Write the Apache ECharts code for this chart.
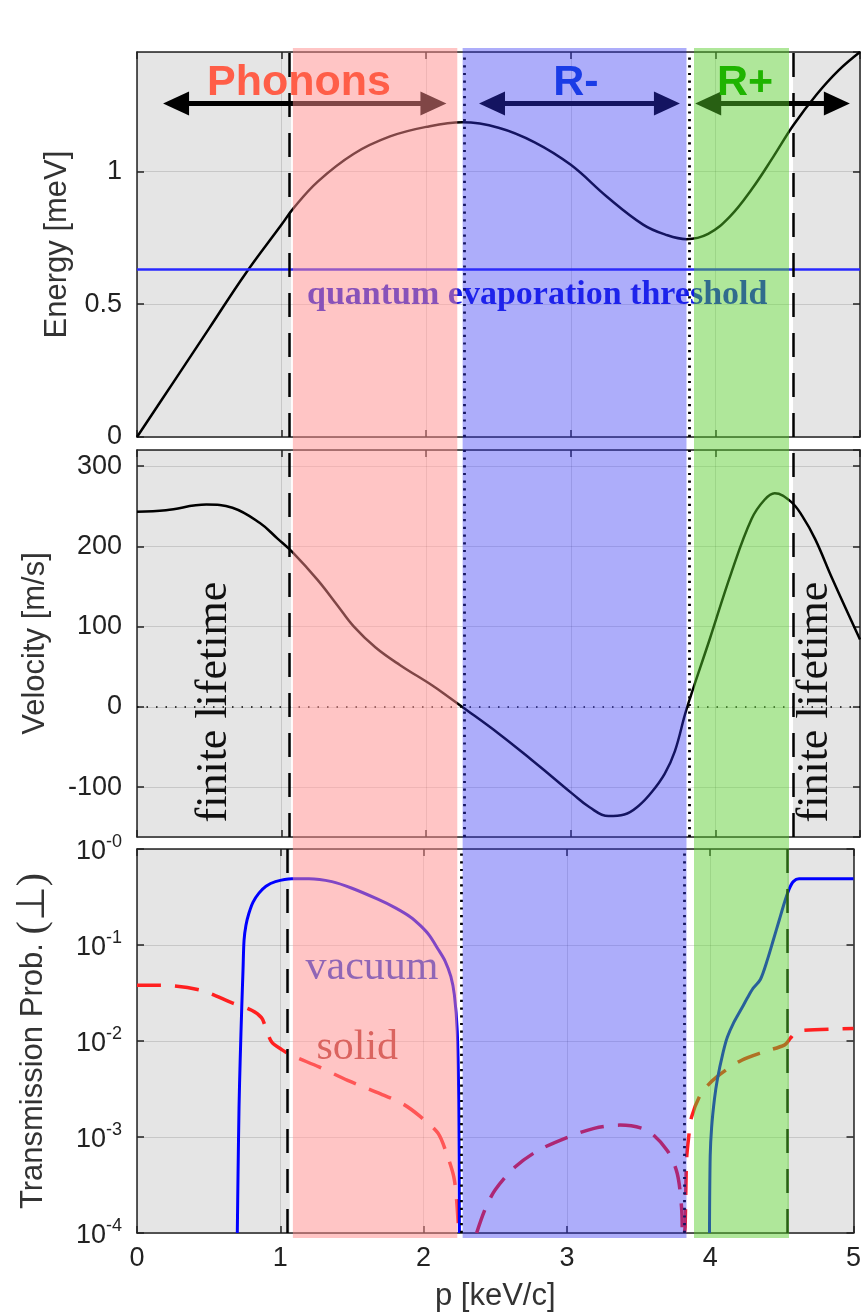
<!DOCTYPE html>
<html><head><meta charset="utf-8">
<script src="https://cdn.jsdelivr.net/npm/echarts@6/dist/echarts.min.js"></script>
<style>html,body{margin:0;padding:0;background:#fff}#c{width:864px;height:1315px}</style>
</head><body><div id="c"></div>
<script>
// ---------------- data ----------------
const xTicks = [0, 1, 2, 3, 4, 5];
const pUnit = 'p [keV/c]';

// dispersion E(p) [meV]
const energyP = [0, 0.25, 0.5, 0.75, 1.0, 1.08, 1.25, 1.5, 1.75, 2.0, 2.25, 2.5, 2.75, 3.0, 3.25, 3.5, 3.65, 3.8, 3.95, 4.1, 4.25, 4.4, 4.54, 4.7, 4.85, 5.0];
const energyE = [0, 0.205, 0.41, 0.615, 0.80, 0.86, 0.962, 1.067, 1.132, 1.168, 1.185, 1.165, 1.11, 1.025, 0.905, 0.80, 0.763, 0.745, 0.765, 0.83, 0.932, 1.055, 1.175, 1.29, 1.38, 1.45];
const thresholdE = 0.628;

// group velocity v(p) [m/s]
const velP = [0, 0.2, 0.48, 0.66, 0.85, 0.97, 1.08, 1.25, 1.38, 1.5, 1.65, 1.82, 2.04, 2.15, 2.25, 2.5, 2.73, 2.87, 3.01, 3.13, 3.26, 3.37, 3.47, 3.56, 3.65, 3.72, 3.8, 3.96, 4.11, 4.25, 4.34, 4.41, 4.52, 4.6, 4.69, 4.81, 5.0];
const velV = [243, 245, 252, 248, 229, 210, 192, 158, 128, 100, 74, 52, 27, 13, 0, -33, -66, -87, -108, -125, -136, -134, -123, -106, -83, -55, -3, 84, 167, 234, 258, 266, 256, 238, 209, 159, 84];

// transmission probability, vacuum (solid blue)
const vacLeftP = [0.700, 0.705, 0.712, 0.72, 0.731, 0.74, 0.747, 0.76, 0.781, 0.81, 0.851, 0.9, 0.966, 1.08, 1.2, 1.36, 1.5, 1.68, 1.8, 1.91, 1.98, 2.04, 2.1, 2.15, 2.19, 2.215, 2.235, 2.245, 2.25];
const vacLeftT = [1e-4, 4.0e-4, 2.04e-3, 6.3e-3, 0.0224, 0.056, 0.112, 0.16, 0.214, 0.28, 0.347, 0.41, 0.457, 0.49, 0.49, 0.457, 0.39, 0.30, 0.245, 0.195, 0.158, 0.126, 0.091, 0.068, 0.047, 0.03, 0.0126, 2.5e-3, 1e-4];
const vacRightP = [3.995, 4.0, 4.01, 4.03, 4.05, 4.09, 4.12, 4.16, 4.22, 4.26, 4.30, 4.35, 4.40, 4.44, 4.48, 4.52, 4.55, 4.58, 4.62, 5.0];
const vacRightT = [1e-4, 6.3e-4, 1.26e-3, 2.5e-3, 3.98e-3, 7.6e-3, 0.011, 0.0151, 0.0219, 0.0282, 0.0355, 0.0437, 0.0708, 0.112, 0.178, 0.282, 0.38, 0.457, 0.49, 0.49];

// transmission probability, solid (red dashed), three branches
const solidP1 = [0, 0.16, 0.44, 0.66, 0.80, 0.87, 0.90, 0.94, 1.01, 1.08, 1.27, 1.47, 1.70, 1.86, 1.98, 2.10, 2.16, 2.21, 2.23, 2.245];
const solidT1 = [0.038, 0.038, 0.0339, 0.0251, 0.0209, 0.0174, 0.0135, 0.00977, 0.00813, 0.00708, 0.00537, 0.00389, 0.00282, 0.00219, 0.00162, 0.0011, 0.000676, 0.000389, 0.000224, 0.0001];
const solidP2 = [2.37, 2.43, 2.50, 2.64, 2.80, 3.01, 3.19, 3.37, 3.56, 3.70, 3.77, 3.80, 3.805];
const solidT2 = [1e-4, 1.78e-4, 2.82e-4, 4.9e-4, 7.24e-4, 1.0e-3, 1.23e-3, 1.33e-3, 1.17e-3, 7.24e-4, 4.17e-4, 1.86e-4, 1e-4];
const solidP3 = [3.82, 3.825, 3.835, 3.85, 3.87, 3.94, 4.05, 4.22, 4.38, 4.52, 4.56, 4.59, 4.65, 5.0];
const solidT3 = [1e-4, 1.15e-4, 5.75e-4, 1e-3, 1.62e-3, 2.88e-3, 4.27e-3, 6.31e-3, 7.76e-3, 9.12e-3, 0.0107, 0.012, 0.0129, 0.0135];

// regions (p ranges)
const regionNames = ['Phonons', 'R-', 'R+'];
const bandStart = [1.078, 2.252, 3.852];
const bandEnd = [2.215, 3.800, 4.509];
const grayStart = [0, 4.537];
const grayEnd = [1.066, 5];
const dashedP = [1.053, 4.537];
const dottedP = [2.26, 3.818];

// ---------------- styles ----------------
const bandColors = ['rgba(255,139,139,0.5)', 'rgba(50,50,242,0.4)', 'rgba(85,205,40,0.47)'];
const SANS = '"Liberation Sans", Arial, Helvetica, sans-serif';
const SERIF = '"Liberation Serif", "Times New Roman", serif';
const AX = '#222';
const gridSplit = {show: true, lineStyle: {color: 'rgba(0,0,0,0.13)', width: 1}};

const zip = (a, b) => a.map((v, i) => [v, b[i]]);

// annotations (data coordinates)
const arrowE = 1.256;
const arrows = [[0.27, 2.05], [2.455, 3.665], [3.95, 4.84]];
const topTexts = [
  {text: regionNames[0], p: 1.12, v: 1.331, color: '#ff5e48'},
  {text: regionNames[1], p: 3.036, v: 1.331, color: '#1a3ce6'},
  {text: regionNames[2], p: 4.205, v: 1.331, color: '#1fb400'}
];
const energyTexts = [{text: 'quantum evaporation threshold', p: 1.176, v: 0.534, color: '#1018e6', font: 'bold 34px ' + SERIF, align: 'left'}];
const velTexts = [
  {text: 'finite lifetime', p: 0.533, v: 6, color: '#111', font: '44px ' + SERIF, rot: Math.PI / 2},
  {text: 'finite lifetime', p: 4.692, v: 6, color: '#111', font: '44px ' + SERIF, rot: Math.PI / 2}
];
const transTexts = [
  {text: 'vacuum', p: 1.176, v: 0.0575, color: '#2040e0', font: '42px ' + SERIF, align: 'left'},
  {text: 'solid', p: 1.252, v: 0.0085, color: '#b43c32', font: '42px ' + SERIF, align: 'left'}
];

// ---------------- axes ----------------
function xAx(grid, pos, showLabels, split) {
  return {
    type: 'value', gridIndex: grid, position: pos, min: xTicks[0], max: xTicks[xTicks.length - 1], interval: 1, z: 1,
    axisLine: {show: true, onZero: false, lineStyle: {color: AX, width: 1.5}},
    axisTick: {show: true, inside: true, length: 7, lineStyle: {color: AX, width: 1.5}},
    axisLabel: {show: showLabels, fontSize: 27, fontFamily: SANS, color: AX, margin: 12},
    splitLine: split ? gridSplit : {show: false}
  };
}
function yAx(grid, pos, base, showLabels) {
  return Object.assign({
    gridIndex: grid, position: pos, z: 1,
    axisLine: {show: true, onZero: false, lineStyle: {color: AX, width: 1.5}},
    axisTick: {show: true, inside: true, length: 7, lineStyle: {color: AX, width: 1.5}},
    splitLine: showLabels ? gridSplit : {show: false}
  }, base, showLabels ? {} : {axisLabel: {show: false}, name: ''});
}
const nameStyle = {fontSize: 31, fontFamily: SANS, color: '#333'};
const labelStyle = {fontSize: 27, fontFamily: SANS, color: AX, margin: 15};

const energyBase = {type: 'value', min: 0, max: 1.45, interval: 0.5,
  axisLabel: Object.assign({showMaxLabel: false}, labelStyle),
  name: 'Energy [meV]', nameLocation: 'middle', nameGap: 64, nameTextStyle: nameStyle};
const velBase = {type: 'value', min: -162, max: 320, splitNumber: 5,
  axisLabel: Object.assign({showMinLabel: false, showMaxLabel: false,
    formatter: v => (Math.abs(v % 100) < 1e-6 ? String(v) : '')}, labelStyle),
  name: 'Velocity [m/s]', nameLocation: 'middle', nameGap: 86, nameTextStyle: nameStyle};
const logBase = {type: 'log', logBase: 10, min: 1e-4, max: 1,
  axisLabel: Object.assign({
    formatter: v => '{a|10}{b|-' + Math.abs(Math.round(Math.log10(v))) + '}',
    rich: {a: {fontSize: 27, fontFamily: SANS, color: AX, lineHeight: 32, verticalAlign: 'bottom'},
           b: {fontSize: 18, fontFamily: SANS, color: AX, lineHeight: 18, verticalAlign: 'top'}}
  }, labelStyle),
  name: '{t|Transmission Prob. }{s|(\u22A5)}', nameLocation: 'middle', nameGap: 84,
  nameTextStyle: {fontSize: 31, fontFamily: SANS, color: '#333',
    rich: {t: {fontSize: 31, fontFamily: SANS, color: '#333'}, s: {fontSize: 40, fontFamily: SERIF, color: '#333'}}}};

// ---------------- render helpers ----------------
function rectRender(colors) {
  return function (params, api) {
    const cs = params.coordSys;
    const x0 = api.coord([api.value(0), 1])[0];
    const x1 = api.coord([api.value(1), 1])[0];
    return {type: 'rect', shape: {x: x0, y: cs.y, width: x1 - x0, height: cs.height},
      style: {fill: colors[params.dataIndex % colors.length]}};
  };
}
function textSeries(list, xi, yi, z, defFont) {
  return {
    type: 'custom', xAxisIndex: xi, yAxisIndex: yi, z: z, silent: true,
    data: list.map(t => [t.p, t.v]),
    encode: {x: 0, y: 1},
    renderItem: function (params, api) {
      const t = list[params.dataIndex];
      const pt = api.coord([api.value(0), api.value(1)]);
      return {type: 'text', x: pt[0], y: pt[1], rotation: t.rot || 0,
        style: {text: t.text, fill: t.color, font: t.font || defFont, align: t.align || 'center', verticalAlign: 'middle'}};
    }
  };
}
function refLines(xi, yi) {
  const d = [];
  dashedP.forEach(p => d.push({xAxis: p, lineStyle: {type: [24, 16], width: 2.5, color: '#000'}}));
  dottedP.forEach(p => d.push({xAxis: p, lineStyle: {type: [2.2, 5.5], width: 2.8, color: '#000'}}));
  return {type: 'line', xAxisIndex: xi, yAxisIndex: yi, data: [], z: 20,
    markLine: {silent: true, symbol: 'none', label: {show: false}, animation: false, data: d}};
}
function curve(xi, yi, xs, ys, color, width, dash, sm) {
  return {type: 'line', xAxisIndex: xi, yAxisIndex: yi, data: zip(xs, ys), z: 2,
    symbol: 'none', smooth: sm, silent: true,
    lineStyle: {color: color, width: width, type: dash || 'solid', cap: 'butt', join: 'round'}};
}

const grayData = grayStart.map((s, i) => [s, grayEnd[i]]);
const bandData = bandStart.map((s, i) => [s, bandEnd[i]]);

const series = [];
[[0, 0], [2, 2], [4, 4]].forEach(([xi, yi]) => {
  series.push({type: 'custom', xAxisIndex: xi, yAxisIndex: yi, z: 0, silent: true,
    data: grayData, encode: {x: [0, 1]}, renderItem: rectRender(['#e5e5e5'])});
});
series.push({type: 'custom', xAxisIndex: 6, yAxisIndex: 6, z: 10, silent: true,
  data: bandData, encode: {x: [0, 1]}, renderItem: rectRender(bandColors)});

// energy panel
series.push(curve(0, 0, energyP, energyE, '#000', 2.5, null, 0.4));
series.push({type: 'line', xAxisIndex: 0, yAxisIndex: 0, data: [], z: 2,
  markLine: {silent: true, symbol: 'none', label: {show: false}, animation: false,
    data: [{yAxis: thresholdE, lineStyle: {color: '#2828ff', width: 2.5, type: 'solid'}}]}});
series.push({type: 'line', xAxisIndex: 0, yAxisIndex: 0, data: [], z: 2,
  markLine: {silent: true, symbol: ['triangle', 'triangle'], symbolSize: [24, 26], label: {show: false}, animation: false,
    lineStyle: {color: '#000', width: 5, type: 'solid'}, itemStyle: {color: '#000'},
    data: arrows.map(a => [{coord: [a[0], arrowE]}, {coord: [a[1], arrowE]}])}});
series.push(textSeries(energyTexts, 0, 0, 3));

// velocity panel
series.push(curve(2, 2, velP, velV, '#000', 2.5, null, 0.4));
series.push({type: 'line', xAxisIndex: 2, yAxisIndex: 2, data: [], z: 2,
  markLine: {silent: true, symbol: 'none', label: {show: false}, animation: false,
    data: [{yAxis: 0, lineStyle: {color: '#000', width: 1.5, type: [1.5, 8]}}]}});
series.push(textSeries(velTexts, 2, 2, 3));

// transmission panel
series.push(curve(4, 4, solidP1, solidT1, '#ff2020', 3.5, [24, 14], 0.3));
series.push(curve(4, 4, solidP2, solidT2, '#ff2020', 3.5, [24, 14], 0.3));
series.push(curve(4, 4, solidP3, solidT3, '#ff2020', 3.5, [24, 14], 0.3));
series.push(curve(4, 4, vacLeftP, vacLeftT, '#0000ff', 3, null, 0.3));
series.push(curve(4, 4, vacRightP, vacRightT, '#0000ff', 3, null, 0.3));
series.push(textSeries(transTexts, 4, 4, 3));

// reference verticals (on top)
series.push(refLines(0, 0));
series.push(refLines(2, 2));
series.push(refLines(4, 4));

// region names on top of everything
series.push(textSeries(topTexts, 0, 0, 30, 'bold 43px ' + SANS));

const bottomX = xAx(2, 'bottom', true, true);
bottomX.name = pUnit; bottomX.nameLocation = 'middle'; bottomX.nameGap = 48; bottomX.nameTextStyle = nameStyle;

const option = {
  animation: false,
  backgroundColor: '#fff',
  grid: [
    {left: 137, width: 723, top: 52, height: 385},
    {left: 137, width: 723, top: 450, height: 387},
    {left: 137, width: 723, top: 849, height: 384},
    {left: 137, width: 723, top: 48, height: 1190}
  ],
  xAxis: [
    xAx(0, 'bottom', false, true), xAx(0, 'top', false, false),
    xAx(1, 'bottom', false, true), xAx(1, 'top', false, false),
    bottomX, xAx(2, 'top', false, false),
    {type: 'value', gridIndex: 3, min: 0, max: 5, show: false}
  ],
  yAxis: [
    yAx(0, 'left', energyBase, true), yAx(0, 'right', energyBase, false),
    yAx(1, 'left', velBase, true), yAx(1, 'right', velBase, false),
    yAx(2, 'left', logBase, true), yAx(2, 'right', logBase, false),
    {type: 'value', gridIndex: 3, min: 0, max: 1, show: false}
  ],
  series: series
};
const chart = echarts.init(document.getElementById('c'), null, {renderer: 'canvas'});
chart.setOption(option);
</script></body></html>
